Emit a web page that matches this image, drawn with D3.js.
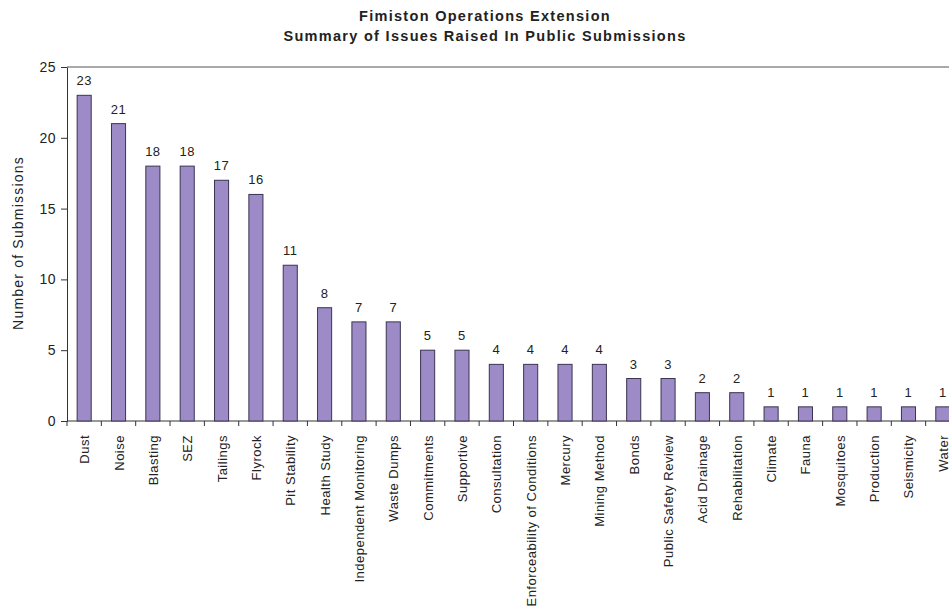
<!DOCTYPE html>
<html>
<head>
<meta charset="utf-8">
<script src="https://cdn.jsdelivr.net/npm/d3@7"></script>
<style>
  body { margin: 0; background: #fff; }
  text { font-family: "Liberation Sans", Arial, sans-serif; fill: #222; }
  .axis path, .axis line { stroke: #333; }
</style>
</head>
<body>
<svg width="949" height="609"></svg>
<script>
var categories = ["Dust","Noise","Blasting","SEZ","Tailings","Flyrock","Pit Stability","Health Study",
  "Independent Monitoring","Waste Dumps","Commitments","Supportive","Consultation",
  "Enforceability of Conditions","Mercury","Mining Method","Bonds","Public Safety Review",
  "Acid Drainage","Rehabilitation","Climate","Fauna","Mosquitoes","Production","Seismicity","Water"];
var counts = [23,21,18,18,17,16,11,8,7,7,5,5,4,4,4,4,3,3,2,2,1,1,1,1,1,1];
var yTicks = [0,5,10,15,20,25];
var titleLines = ["Fimiston Operations Extension","Summary of Issues Raised In Public Submissions"];

var svg = d3.select("svg"),
  margin = {top: 67, left: 67},
  width = 893,
  height = 354,
  g = svg.append("g").attr("transform", "translate(" + margin.left + "," + margin.top + ")");

var x = d3.scaleBand().domain(categories).range([0, width]).paddingInner(0.59).paddingOuter(0.295);
var y = d3.scaleLinear().domain([0, 25]).range([height, 0]);

// title
svg.selectAll(".title")
  .data(titleLines)
  .enter().append("text")
  .attr("class", "title")
  .attr("x", 485)
  .attr("y", function(d, i) { return 21 + i * 20; })
  .attr("text-anchor", "middle")
  .style("font-size", "14.5px")
  .style("font-weight", "bold")
  .style("letter-spacing", "1.3px")
  .text(function(d) { return d; });

// frame top line
g.append("line")
  .attr("x1", 0).attr("x2", width)
  .attr("y1", 0).attr("y2", 0)
  .attr("stroke", "#555");

// y axis
g.append("g")
  .attr("class", "axis")
  .call(d3.axisLeft(y).tickValues(yTicks).tickSize(6).tickSizeOuter(0).tickPadding(5))
  .selectAll("text").style("font-size", "14px").style("letter-spacing", "0.5px").attr("fill", "#222");

// x axis: ticks on band boundaries
var xAxis = g.append("g")
  .attr("class", "axis")
  .attr("transform", "translate(0," + height + ")");
xAxis.append("line").attr("x1", 0).attr("x2", width).attr("stroke", "#333");
xAxis.selectAll(".tk")
  .data(d3.range(categories.length + 1))
  .enter().append("line")
  .attr("x1", function(i) { return i * x.step(); })
  .attr("x2", function(i) { return i * x.step(); })
  .attr("y1", 0).attr("y2", 5)
  .attr("stroke", "#333");
xAxis.selectAll(".lbl")
  .data(categories)
  .enter().append("text")
  .attr("transform", function(d) {
    return "translate(" + (x(d) + x.bandwidth() / 2 + 5) + ",14) rotate(-90)";
  })
  .attr("text-anchor", "end")
  .style("font-size", "13px")
  .style("letter-spacing", "0.5px")
  .text(function(d) { return d; });

// y label
svg.append("text")
  .attr("transform", "translate(23,243) rotate(-90)")
  .attr("text-anchor", "middle")
  .style("font-size", "14px")
  .style("letter-spacing", "1.2px")
  .text("Number of Submissions");

// bars
g.selectAll(".bar")
  .data(categories)
  .enter().append("rect")
  .attr("class", "bar")
  .attr("x", function(d) { return x(d); })
  .attr("width", x.bandwidth())
  .attr("y", function(d, i) { return y(counts[i]); })
  .attr("height", function(d, i) { return height - y(counts[i]); })
  .attr("fill", "#9d8bc8")
  .attr("stroke", "#3a3450")
  .attr("stroke-width", 1);

// value labels
g.selectAll(".val")
  .data(categories)
  .enter().append("text")
  .attr("x", function(d) { return x(d) + x.bandwidth() / 2; })
  .attr("y", function(d, i) { return y(counts[i]) - 10; })
  .attr("text-anchor", "middle")
  .style("font-size", "13px")
  .style("letter-spacing", "0.5px")
  .text(function(d, i) { return counts[i]; });
</script>
</body>
</html>
